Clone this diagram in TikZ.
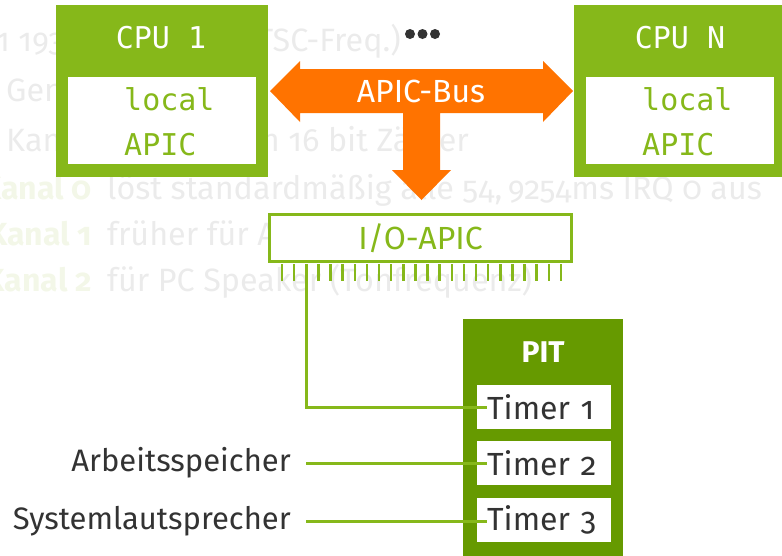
\documentclass[tikz,border=0pt]{standalone}
\usepackage{fontspec}
\setmainfont{Fira Sans}[Numbers=OldStyle]
\newfontfamily\monof{DejaVu Sans Mono}
\definecolor{cpugreen}{RGB}{134,184,26}
\definecolor{pitgreen}{RGB}{102,154,0}
\definecolor{busorange}{RGB}{255,115,0}
\definecolor{faint}{RGB}{235,235,235}
\definecolor{faintgreen}{RGB}{243,247,232}
\definecolor{textgray}{RGB}{51,51,51}
\begin{document}
\begin{tikzpicture}[x=1pt,y=-1pt,
  bg/.style={text=faint, font=\fontsize{32.3}{38}\selectfont, inner sep=0pt},
  bgk/.style={text=faintgreen, font=\fontsize{32}{38}\selectfont\bfseries, inner sep=0pt},
  cpubox/.style={fill=cpugreen, minimum width=212pt, minimum height=172pt, inner sep=0pt},
  apicbox/.style={fill=white, minimum width=188pt, minimum height=87pt, inner sep=0pt},
  monotxt/.style={font=\fontsize{30}{36}\monof, inner sep=0pt},
  iobox/.style={draw=cpugreen, line width=2.7pt, fill=white, minimum width=302pt, minimum height=47pt, inner sep=0pt, text=cpugreen, font=\fontsize{32}{38}\selectfont},
  pin/.style={draw=cpugreen, line width=2.5pt},
  conn/.style={draw=cpugreen, line width=3pt},
  pitbox/.style={fill=pitgreen, minimum width=160pt, minimum height=245pt, inner sep=0pt},
  timerbox/.style={fill=white, minimum height=44pt, text width=113pt, inner xsep=10.5pt, inner ysep=0pt, align=left, text=textgray, font=\fontsize{32}{38}\selectfont},
  lbl/.style={text=textgray, font=\fontsize{31}{37}\selectfont, inner ysep=0pt, inner xsep=15pt}]
\useasboundingbox (0,0) rectangle (782,555);
% faint background text
\node[bg, anchor=base west] (bga) at (-4,51) {1 193 182 Hz};
\node[bg, anchor=base east] (bgb) at (401,51) {(TSC-Freq.)};
\node[bg, anchor=base west] (bgc) at (6,101) {Generator};
\node[bg, anchor=base west] (bgd) at (6,151) {Kanäle};
\node[bg, anchor=base east] (bge) at (469,151) {ein 16 bit Zähler};
\node[bgk, anchor=base east] (bgk0) at (92,199) {Kanal 0};
\node[bg, anchor=base west] (bgf) at (107,199) {löst standardmäßig alle 54,\,9254ms IRQ 0 aus};
\node[bgk, anchor=base east] (bgk1) at (92,245) {Kanal 1};
\node[bg, anchor=base west] (bgg) at (107,245) {früher für APM};
\node[bgk, anchor=base east] (bgk2) at (92,291) {Kanal 2};
\node[bg, anchor=base west] (bgh) at (107,291) {für PC Speaker (Tonfrequenz)};
% CPU boxes
\node[cpubox] (cpu1) at (162,91) {};
\node[apicbox] (lap1) at (162,120.5) {};
\node[monotxt, text=white] (cpu1t) at (161,38) {CPU 1};
\node[monotxt, text=cpugreen, anchor=base west] (lap1a) at (124,110) {local};
\node[monotxt, text=cpugreen, anchor=base west] (lap1b) at (124,155) {APIC};
\node[cpubox] (cpun) at (680,91) {};
\node[apicbox] (lapn) at (680,120.5) {};
\node[monotxt, text=white] (cpunt) at (680,38) {CPU N};
\node[monotxt, text=cpugreen, anchor=base west] (lapna) at (642,110) {local};
\node[monotxt, text=cpugreen, anchor=base west] (lapnb) at (642,155) {APIC};
% dots
\fill[textgray] (410,34) circle (5) (422.5,34) circle (5) (435,34) circle (5);
% APIC bus arrow
\fill[busorange] (270,91) -- (300,61) -- (300,69) -- (543,69) -- (543,61) -- (573,91)
  -- (543,122) -- (543,113) -- (440,113) -- (440,170) -- (451,170) -- (421.5,200)
  -- (392,170) -- (403,170) -- (403,113) -- (300,113) -- (300,122) -- cycle;
\node[text=white, font=\fontsize{32}{38}\selectfont, inner sep=0pt] (bus) at (421,91) {APIC-Bus};
% I/O-APIC
\node[iobox] (io) at (420.5,238) {I/O-APIC};
\foreach \i in {0,...,23} {
  \coordinate (p\i) at (282+12.13*\i,264);
  \draw[pin] (p\i) -- ++(0,17);
}
% PIT
\node[pitbox, anchor=north west] (pit) at (463,319) {};
\node[text=white, font=\fontsize{30}{36}\selectfont\bfseries, inner sep=0pt] (pitt) at (543,352) {PIT};
\node[timerbox, anchor=west] (t1) at (476.5,407) {Timer 1};
\node[timerbox, anchor=west] (t2) at (476.5,463) {Timer 2};
\node[timerbox, anchor=west] (t3) at (476.5,519.5) {Timer 3};
% labels
\node[lbl, anchor=east] (mem) at (306,463) {Arbeitsspeicher};
\node[lbl, anchor=east] (spk) at (306,521) {Systemlautsprecher};
% connectors
\draw[conn] (p2) |- ([xshift=10pt]t1.west);
\draw[conn] (mem.east) -- ([xshift=10pt]t2.west |- mem.east);
\draw[conn] (spk.east) -- ([xshift=10pt]t3.west |- spk.east);
\end{tikzpicture}
\end{document}
